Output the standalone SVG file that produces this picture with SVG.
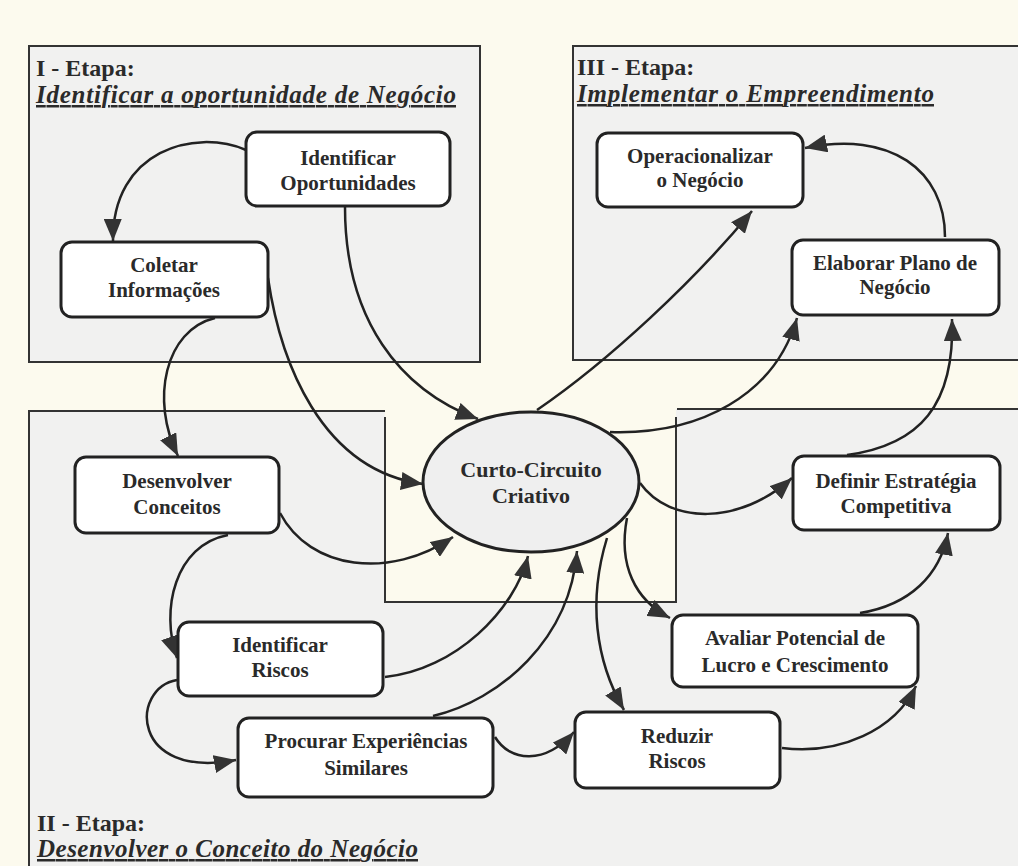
<svg xmlns="http://www.w3.org/2000/svg" width="1018" height="866" viewBox="0 0 1018 866">
<style>
.stage{fill:#f1f1f0;stroke:#333;stroke-width:2}
.node rect{fill:#fff;stroke:#222;stroke-width:3}
.node text,.ell text{font-family:"Liberation Serif","Times New Roman",serif;font-weight:bold;font-size:21px;fill:#2a2a2a;text-anchor:middle}
.t1{font-family:"Liberation Serif","Times New Roman",serif;font-weight:bold;font-size:24px;fill:#2a2a2a}
.t2{font-family:"Liberation Serif","Times New Roman",serif;font-weight:bold;font-style:italic;font-size:25px;fill:#2a2a2a;text-decoration:underline}
.conn path{fill:none;stroke:#222;stroke-width:2.5;marker-end:url(#ah)}
</style>
<defs>
<marker id="ah" markerUnits="userSpaceOnUse" markerWidth="22" markerHeight="18" refX="22" refY="9" orient="auto">
<path d="M0,0 L22,9 L0,18 z" fill="#333"/>
</marker>
</defs>
<rect width="1018" height="866" fill="#fcfaee"/>

<g id="stage1">
<rect class="stage" x="29" y="46" width="451" height="316"/>
<text class="t1" x="36" y="76">I - Etapa:</text>
<text class="t2" x="36" y="103" textLength="420" lengthAdjust="spacing">Identificar a oportunidade de Negócio</text>
</g>
<g id="stage3">
<path class="stage" d="M1020,46 L573,46 L573,360 L1020,360"/>
<text class="t1" x="577" y="75">III - Etapa:</text>
<text class="t2" x="577" y="102" textLength="357" lengthAdjust="spacing">Implementar o Empreendimento</text>
</g>
<g id="stage2">
<path d="M29,868 L29,411 L385,411 L385,602 L676,602 L676,409 L1020,409 L1020,868 z" fill="#f1f1f0"/>
<path d="M29,868 L29,411 L385,411 M385,417 L385,602 L676,602 L676,417 M677,409 L1020,409" fill="none" stroke="#333" stroke-width="2"/>
<text class="t1" x="37" y="831">II - Etapa:</text>
<text class="t2" x="37" y="857" textLength="381" lengthAdjust="spacing">Desenvolver o Conceito do Negócio</text>
</g>

<g class="conn" id="connectors">
<path d="M246,150 C195,128 112,150 113,241"/>
<path d="M345,207 C345,320 400,390 478,419"/>
<path d="M268,278 C280,360 320,470 423,484"/>
<path d="M215,318 C165,330 150,400 178,456"/>
<path d="M280,513 C310,570 390,580 453,537"/>
<path d="M228,535 C175,545 160,610 177,658"/>
<path d="M385,677 C455,670 515,610 528,556"/>
<path d="M433,716 C500,700 570,640 577,551"/>
<path d="M177,680 C130,688 130,780 236,760"/>
<path d="M495,737 C510,762 545,765 574,732"/>
<path d="M782,748 C840,755 895,730 916,686"/>
<path d="M860,613 C910,605 940,575 948,533"/>
<path d="M847,455 C920,445 955,405 952,319"/>
<path d="M945,237 C945,170 890,130 805,148"/>
<path d="M537,410 C610,360 695,280 752,211"/>
<path d="M610,432 C700,435 775,395 797,318"/>
<path d="M640,483 C670,525 740,525 792,478"/>
<path d="M627,518 C618,565 635,600 670,618"/>
<path d="M607,538 C588,600 595,660 624,710"/>
</g>

<g class="ell" id="curto-circuito">
<ellipse cx="531" cy="482" rx="108" ry="70" fill="#efefef" stroke="#222" stroke-width="3"/>
<text x="531" y="477" style="font-size:22px">Curto-Circuito</text>
<text x="531" y="503" style="font-size:22px">Criativo</text>
</g>

<g class="node" id="identificar-oportunidades">
<rect x="246" y="132" width="204" height="74" rx="11"/>
<text x="348" y="165">Identificar</text>
<text x="348" y="190">Oportunidades</text>
</g>
<g class="node" id="coletar-informacoes">
<rect x="61" y="242" width="207" height="75" rx="11"/>
<text x="164" y="272">Coletar</text>
<text x="164" y="297">Informações</text>
</g>
<g class="node" id="operacionalizar">
<rect x="597" y="133" width="206" height="74" rx="11"/>
<text x="700" y="163">Operacionalizar</text>
<text x="700" y="187">o Negócio</text>
</g>
<g class="node" id="elaborar-plano">
<rect x="792" y="240" width="207" height="75" rx="11"/>
<text x="895" y="270">Elaborar Plano de</text>
<text x="895" y="294">Negócio</text>
</g>
<g class="node" id="desenvolver-conceitos">
<rect x="75" y="457" width="204" height="76" rx="11"/>
<text x="177" y="488">Desenvolver</text>
<text x="177" y="514">Conceitos</text>
</g>
<g class="node" id="identificar-riscos">
<rect x="178" y="622" width="205" height="74" rx="11"/>
<text x="280" y="652">Identificar</text>
<text x="280" y="677">Riscos</text>
</g>
<g class="node" id="procurar-experiencias">
<rect x="238" y="718" width="255" height="79" rx="11"/>
<text x="366" y="748">Procurar Experiências</text>
<text x="366" y="775">Similares</text>
</g>
<g class="node" id="definir-estrategia">
<rect x="793" y="456" width="207" height="74" rx="11"/>
<text x="896" y="488">Definir Estratégia</text>
<text x="896" y="513">Competitiva</text>
</g>
<g class="node" id="avaliar-potencial">
<rect x="672" y="615" width="246" height="72" rx="11"/>
<text x="795" y="645">Avaliar Potencial de</text>
<text x="795" y="672">Lucro e Crescimento</text>
</g>
<g class="node" id="reduzir-riscos">
<rect x="575" y="712" width="205" height="76" rx="11"/>
<text x="677" y="743">Reduzir</text>
<text x="677" y="768">Riscos</text>
</g>
</svg>
